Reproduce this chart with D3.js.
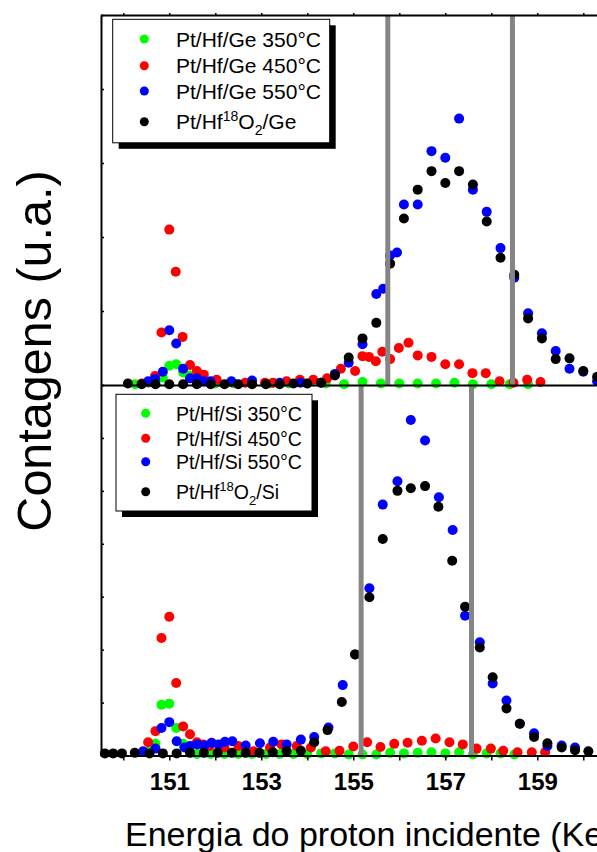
<!DOCTYPE html>
<html><head><meta charset="utf-8">
<script src="https://cdn.jsdelivr.net/npm/d3@7"></script>
<style>body{margin:0;background:#fff} svg{display:block}</style>
</head><body>
<script>
// ---------- DATA (energy keV, counts a.u.) ----------
// Top panel: Pt/Hf/Ge
const geGreen = [[150.26,1],[150.55,3],[150.86,10],[151.0,26],[151.15,28],[151.3,17],[151.43,13],[151.6,3],[152.0,2],[152.4,2],[152.8,2],[153.2,2],[153.6,2],[154.0,2],[154.4,2],[154.8,1],[155.2,4],[155.6,2],[156.0,2],[156.4,2],[156.8,2],[157.2,3],[157.6,1],[158.0,1],[158.4,1],[158.8,1]];
const geRed = [[150.4,2],[150.55,4],[150.69,12],[150.83,71],[151.0,210],[151.14,153],[151.29,65],[151.45,27],[151.6,19],[151.75,14],[152.03,7],[152.35,4],[152.65,3],[153.08,3],[153.26,3],[153.55,5],[153.84,7],[154.13,7],[154.43,9],[154.73,22],[155.04,19],[155.2,39],[155.34,38],[155.49,32],[155.63,45],[155.8,35],[155.99,50],[156.2,57],[156.4,40],[156.7,38],[157.0,28],[157.3,28],[157.59,16],[157.88,16],[158.18,5],[158.48,3],[158.78,7],[159.07,4]];
const geBlue = [[150.54,5],[150.69,8],[150.86,18],[151.0,74],[151.15,56],[151.3,22],[151.45,9],[151.6,9],[151.75,5],[151.9,5],[152.35,5],[152.8,6],[153.4,3],[153.85,3],[154.3,3],[154.6,15],[154.9,30],[155.2,55],[155.5,123],[155.65,130],[155.8,175],[155.95,179],[156.1,244],[156.4,244],[156.7,316],[157.0,307],[157.3,360],[157.6,264],[157.9,234],[158.2,185],[158.5,145],[158.8,97],[159.1,70],[159.4,46],[159.7,22],[160.0,18],[160.3,5]];
const geBlack = [[150.1,2],[150.4,1],[150.7,1],[151.0,1],[151.3,1],[151.6,1],[151.9,1],[152.2,1],[152.5,1],[152.8,1],[153.1,1],[153.4,1],[153.7,2],[154.0,2],[154.3,3],[154.6,13],[154.9,37],[155.2,63],[155.5,84],[155.8,164],[156.1,225],[156.4,264],[156.7,289],[157.0,273],[157.3,289],[157.6,271],[157.9,221],[158.2,172],[158.5,149],[158.8,90],[159.1,63],[159.4,35],[159.7,36],[160.0,19],[160.3,11]];
// Bottom panel: Pt/Hf/Si
const siGreen = [[150.55,8],[150.7,22],[150.83,96],[151.0,98],[151.15,52],[151.3,22],[151.45,8],[151.6,3],[151.9,3],[152.2,3],[152.5,3],[152.8,3],[153.1,3],[153.4,3],[153.7,3],[154.0,3],[154.3,4],[154.6,4],[154.9,2],[155.2,2],[155.5,2],[155.8,5],[156.1,4],[156.4,5],[156.7,6],[157.0,4],[157.3,6],[157.6,2],[157.9,4],[158.2,4],[158.5,2]];
const siRed = [[150.54,25],[150.7,46],[150.83,222],[151.0,262],[151.15,137],[151.3,55],[151.45,40],[151.6,25],[151.74,21],[151.88,18],[152.2,15],[152.5,18],[152.83,8],[153.19,15],[153.44,21],[153.77,18],[154.08,15],[154.4,8],[154.7,9],[155.0,17],[155.3,25],[155.59,16],[155.89,22],[156.18,24],[156.49,28],[156.79,32],[157.09,25],[157.38,21],[157.68,13],[157.99,13],[158.26,9],[158.57,6],[158.88,6],[159.17,6]];
const siBlue = [[150.43,8],[150.7,13],[150.83,52],[151.0,63],[151.16,27],[151.33,15],[151.45,18],[151.61,21],[151.76,19],[151.92,24],[152.07,21],[152.21,26],[152.37,27],[152.66,19],[152.97,23],[153.26,26],[153.55,21],[153.86,30],[154.15,35],[154.46,53],[154.77,133],[155.04,191],[155.35,316],[155.64,474],[155.96,518],[156.25,634],[156.56,595],[156.86,488],[157.16,426],[157.43,264],[157.75,214],[158.03,136],[158.33,104],[158.62,60],[158.93,42],[159.22,18],[159.53,19],[159.82,15]];
const siBlack = [[149.6,4],[149.78,4],[149.97,4],[150.25,5],[150.57,4],[150.86,4],[151.16,4],[151.45,5],[151.75,5],[152.05,5],[152.36,5],[152.66,5],[152.96,5],[153.25,6],[153.55,8],[153.86,9],[154.15,25],[154.44,48],[154.75,101],[155.04,191],[155.35,299],[155.64,409],[155.96,500],[156.25,505],[156.56,509],[156.85,470],[157.15,368],[157.43,281],[157.75,204],[158.03,148],[158.33,89],[158.62,60],[158.93,35],[159.22,23],[159.53,15],[159.82,10],[160.11,8]];
// vertical marker lines (keV)
const geMarkers = [155.75, 158.46];
const siMarkers = [155.17, 157.57];
// axis ticks
const xTicks = [150,151,152,153,154,155,156,157,158,159,160];
const xTickLabels = ["","151","","153","","155","","157","","159",""];
const geLegend = ["Pt/Hf/Ge 350°C","Pt/Hf/Ge 450°C","Pt/Hf/Ge 550°C"];
const siLegend = ["Pt/Hf/Si 350°C","Pt/Hf/Si 450°C","Pt/Hf/Si 550°C"];
const colors = ["#00ff00","#ff0000","#0000ff","#000000"];

// ---------- CHART ----------
const W=597,H=852;
const svg=d3.select("body").append("svg").attr("width",W).attr("height",H)
  .style("font-family","Arial, 'Liberation Sans', sans-serif");
const x=d3.scaleLinear().domain([149.5,161]).range([100.3,629.3]);
const yTop=d3.scaleLinear().domain([0,500]).range([385,15]);
const yBot=d3.scaleLinear().domain([0,700]).range([755.5,385]);

function drawSeries(data,y,color){
  svg.append("g").selectAll("circle").data(data).join("circle")
    .attr("cx",d=>x(d[0])).attr("cy",d=>y(d[1])).attr("r",5).attr("fill",color);
}
[[geGreen,0],[geRed,1],[geBlue,2],[geBlack,3]].forEach(([d,i])=>drawSeries(d,yTop,colors[i]));
[[siGreen,0],[siRed,1],[siBlue,2],[siBlack,3]].forEach(([d,i])=>drawSeries(d,yBot,colors[i]));

// marker lines
svg.append("g").selectAll("line").data(geMarkers).join("line")
  .attr("x1",d=>x(d)).attr("x2",d=>x(d)).attr("y1",yTop(500)).attr("y2",yTop(0))
  .attr("stroke","#858585").attr("stroke-width",5);
svg.append("g").selectAll("line").data(siMarkers).join("line")
  .attr("x1",d=>x(d)).attr("x2",d=>x(d)).attr("y1",yBot(700)).attr("y2",yBot(0))
  .attr("stroke","#858585").attr("stroke-width",5);

// axes
function styleAxis(g){ g.selectAll("path,line").attr("stroke","#000"); g.select(".domain").attr("stroke-width",2); g.selectAll(".tick line").attr("stroke-width",1.5); }
svg.append("g").attr("transform","translate(0,15)")
  .call(d3.axisTop(x).tickValues(xTicks).tickSize(2).tickSizeOuter(0).tickFormat(""))
  .call(styleAxis);
svg.append("g").attr("transform","translate(0,385)")
  .call(d3.axisBottom(x).tickValues(xTicks).tickSize(0).tickSizeOuter(0).tickFormat(""))
  .call(styleAxis);
const xb=svg.append("g").attr("transform","translate(0,755.5)")
  .call(d3.axisBottom(x).tickValues(xTicks).tickSize(5).tickSizeOuter(0).tickFormat((d,i)=>xTickLabels[i]))
  .call(styleAxis);
xb.selectAll("text").attr("y",34).attr("dy",0).attr("fill","#000")
  .style("font-size","24px").style("font-weight","bold").style("font-family","Arial, 'Liberation Sans', sans-serif");
svg.append("g").attr("transform","translate(101,0)")
  .call(d3.axisLeft(yTop).ticks(5).tickSize(-3).tickSizeOuter(0).tickFormat(""))
  .call(styleAxis);
svg.append("g").attr("transform","translate(101,0)")
  .call(d3.axisLeft(yBot).ticks(7).tickSize(-3).tickSizeOuter(0).tickFormat(""))
  .call(styleAxis);

// axis titles
svg.append("text").attr("x",125).attr("y",846)
  .attr("text-anchor","start").style("font-size","34px").text("Energia do proton incidente (KeV)");
svg.append("text").attr("transform","translate(51,351) rotate(-90)")
  .attr("text-anchor","middle").style("font-size","48.5px").text("Contagens (u.a.)");

// legends
function legend(x0,y0,w,h,rowY,dotX,labels,last,fs){
  const g=svg.append("g");
  g.append("rect").attr("x",x0+6).attr("y",y0+6).attr("width",w).attr("height",h).attr("fill","#000");
  g.append("rect").attr("x",x0).attr("y",y0).attr("width",w).attr("height",h).attr("fill","#fff").attr("stroke","#000").attr("stroke-width",1);
  rowY.forEach((ry,i)=>{
    g.append("circle").attr("cx",dotX).attr("cy",ry).attr("r",4.5).attr("fill",colors[i]);
    const t=g.append("text").attr("x",176).attr("y",ry+7.5).style("font-size",fs+"px");
    if(i<3) t.text(labels[i]);
    else {
      t.append("tspan").text("Pt/Hf");
      t.append("tspan").attr("dy",-8).style("font-size",(fs*0.67)+"px").text("18");
      t.append("tspan").attr("dy",8).text("O");
      t.append("tspan").attr("dy",6).style("font-size",(fs*0.67)+"px").text("2");
      t.append("tspan").attr("dy",-6).text(last);
    }
  });
}
legend(112.7,19.3,217,123.5,[39,65.7,91,121.7],144.3,geLegend,"/Ge",21);
legend(116,394.3,196,116.7,[413.3,438.3,461.7,491.7],145.7,siLegend,"/Si",19.5);
</script>
</body></html>
